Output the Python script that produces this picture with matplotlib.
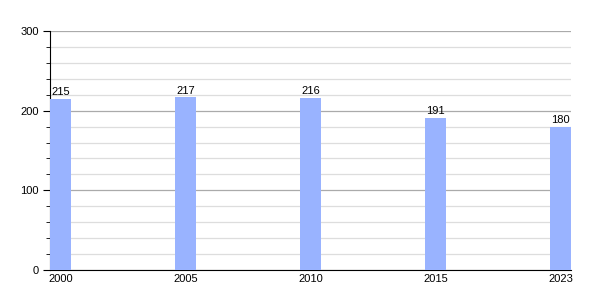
import matplotlib
matplotlib.use("Agg")
import matplotlib.pyplot as plt
from matplotlib.ticker import MultipleLocator

plt.rcParams["font.family"] = ["Liberation Sans", "DejaVu Sans"]

years = ["2000", "2005", "2010", "2015", "2023"]
values = [215, 217, 216, 191, 180]

fig = plt.figure(figsize=(6, 3), dpi=100)
ax = fig.add_axes([50/600, 30/300, 521/600, 239/300])
w = 0.168
x = list(range(len(years)))
ax.bar(x, values, width=w, color="#99b3ff", zorder=3)
ax.set_xlim(-w/2, len(years) - 1 + w/2)
ax.set_ylim(0, 300)
ax.yaxis.set_major_locator(MultipleLocator(100))
ax.yaxis.set_minor_locator(MultipleLocator(20))
ax.grid(which="major", axis="y", color="#aaaaaa", linewidth=0.9, zorder=1)
ax.grid(which="minor", axis="y", color="#dddddd", linewidth=0.9, zorder=1)
ax.set_xticks(x)
ax.set_xticklabels(years)
for s in ["top", "right"]:
    ax.spines[s].set_visible(False)
ax.spines["left"].set_color("black")
ax.spines["bottom"].set_color("black")
ax.tick_params(axis="x", length=0, labelsize=8, pad=3)
ax.tick_params(axis="y", which="major", length=5, labelsize=8, pad=3)
ax.tick_params(axis="y", which="minor", length=3)
for xi, v in zip(x, values):
    ax.text(xi, v + 2, str(v), ha="center", va="bottom", fontsize=8)
fig.savefig("out.png", dpi=100)
